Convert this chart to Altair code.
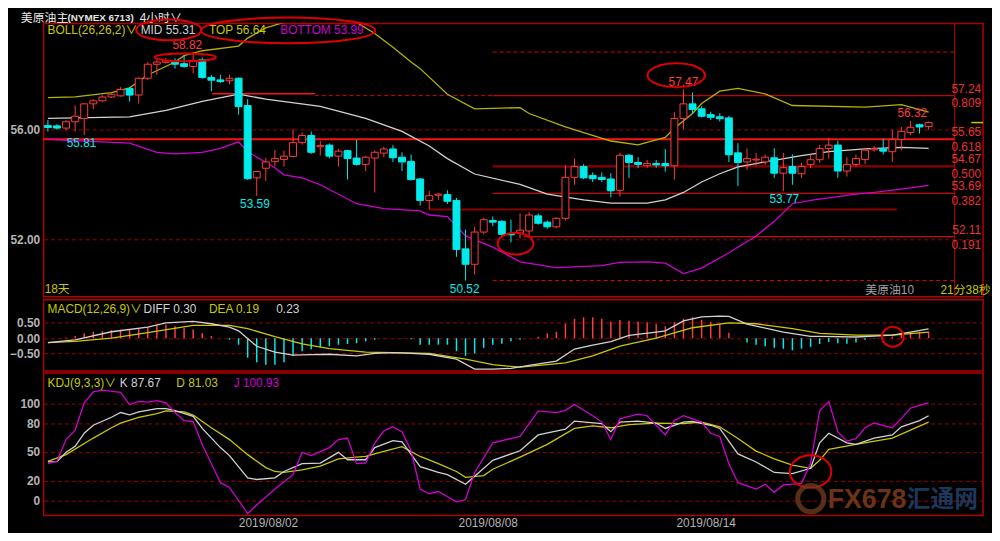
import altair as alt
import pandas as pd

# ---------------- candles (4h bars) ----------------
OPEN = [56.15, 56.14, 56.06, 56.29, 56.41, 56.94, 57.05, 57.19, 57.23, 57.50,
        57.26, 57.87, 58.38, 58.45, 58.50, 58.40, 58.30, 58.54, 57.90, 57.81,
        57.78, 57.87, 56.88, 54.25, 54.60, 54.85, 54.92, 55.03, 55.53, 55.79,
        55.38, 55.44, 55.04, 55.24, 54.97, 54.74, 54.97, 55.15, 55.30, 55.00,
        54.85, 54.21, 53.43, 53.62, 53.64, 53.43, 51.67, 51.11, 52.28, 52.70,
        52.67, 52.22, 52.24, 52.32, 52.87, 52.64, 52.47, 52.78, 54.27, 54.66,
        54.34, 54.27, 54.21, 53.80, 55.07, 54.81, 54.69, 54.77, 54.77, 54.69,
        56.41, 56.94, 56.76, 56.55, 56.47, 56.43, 55.16, 54.83, 54.90, 54.83,
        54.98, 54.42, 54.66, 54.40, 54.74, 54.91, 55.32, 55.44, 54.50, 54.74,
        54.92, 55.27, 55.30, 55.20, 55.65, 55.90, 56.18, 56.12]
HIGH = [56.35, 56.20, 56.35, 56.88, 56.96, 57.10, 57.25, 57.35, 57.55, 57.55,
        57.90, 58.45, 58.55, 58.60, 58.60, 58.70, 58.82, 58.62, 57.99, 58.00,
        58.00, 57.90, 57.11, 54.50, 54.98, 55.27, 55.24, 56.02, 55.90, 55.94,
        55.59, 55.50, 55.30, 55.26, 55.63, 55.05, 55.25, 55.38, 55.44, 55.18,
        55.10, 54.25, 53.78, 53.70, 53.80, 53.52, 52.37, 52.47, 52.80, 52.85,
        52.72, 52.73, 52.96, 53.00, 52.95, 52.70, 52.82, 54.71, 54.95, 54.75,
        54.45, 54.45, 54.42, 55.16, 55.12, 55.00, 54.90, 54.90, 55.30, 56.64,
        57.47, 57.35, 56.85, 56.65, 56.60, 56.50, 55.51, 55.32, 55.15, 55.10,
        55.33, 55.16, 55.10, 54.80, 55.10, 55.45, 55.70, 55.60, 55.00, 55.10,
        55.35, 55.40, 55.67, 56.00, 56.10, 56.32, 56.22, 56.30]
LOW = [55.93, 56.00, 55.98, 55.94, 55.81, 56.75, 57.00, 57.15, 57.20, 57.02,
       56.96, 57.80, 58.00, 58.40, 58.22, 58.25, 58.05, 57.85, 57.40, 57.70,
       57.65, 56.55, 54.18, 53.59, 54.14, 54.67, 54.66, 55.00, 55.46, 55.12,
       55.06, 54.96, 54.66, 54.19, 54.70, 54.50, 53.72, 55.00, 54.83, 54.50,
       54.15, 53.25, 53.10, 53.45, 53.30, 51.38, 50.52, 50.74, 52.20, 52.50,
       52.10, 51.90, 52.05, 52.10, 52.55, 52.40, 52.42, 52.70, 54.00, 54.20,
       54.10, 54.10, 53.54, 53.57, 54.25, 54.60, 54.62, 54.62, 54.48, 54.19,
       56.02, 56.59, 56.45, 56.35, 56.30, 54.83, 53.95, 54.54, 54.70, 54.72,
       54.25, 53.77, 54.00, 54.25, 54.60, 54.80, 54.95, 54.25, 54.30, 54.65,
       54.75, 55.20, 55.10, 54.83, 55.25, 55.80, 55.86, 56.00]
CLOSE = [56.08, 56.06, 56.29, 56.49, 56.94, 57.05, 57.19, 57.29, 57.46, 57.26,
         57.87, 58.38, 58.46, 58.50, 58.38, 58.30, 58.52, 57.90, 57.80, 57.75,
         57.87, 56.84, 54.22, 54.48, 54.83, 54.95, 55.04, 55.53, 55.79, 55.18,
         55.43, 55.04, 55.22, 54.95, 54.74, 55.00, 55.18, 55.30, 54.98, 54.83,
         54.19, 53.43, 53.60, 53.66, 53.40, 51.65, 51.11, 52.28, 52.73, 52.64,
         52.20, 52.18, 52.35, 52.90, 52.60, 52.47, 52.78, 54.27, 54.66, 54.25,
         54.22, 54.19, 53.78, 55.07, 54.81, 54.74, 54.77, 54.72, 54.69, 56.41,
         56.94, 56.73, 56.49, 56.45, 56.40, 55.09, 54.81, 54.95, 54.93, 55.00,
         54.42, 54.62, 54.42, 54.66, 54.91, 55.32, 55.44, 54.50, 54.74, 54.95,
         55.26, 55.32, 55.22, 55.65, 55.94, 56.09, 56.10, 56.26]

# ---------------- Bollinger (26,26,2) ----------------
MID_IDX = [0, 9, 13, 17, 21, 24, 30, 35, 39, 42, 44, 47, 52, 55, 59, 62, 66, 68, 70, 72,
           74, 76, 79, 83, 86, 90, 94, 97]
MID_VAL = [56.41, 56.47, 56.70, 57.03, 57.29, 57.11, 56.85, 56.41, 55.94, 55.41, 54.95,
           54.39, 54.01, 53.66, 53.45, 53.33, 53.33, 53.45, 53.72, 54.10, 54.40, 54.65,
           54.83, 55.06, 55.20, 55.30, 55.36, 55.32]
TOP_IDX = [0, 3, 7, 9, 11, 14, 15, 17, 21, 22, 24, 27, 31, 34, 36, 38, 40, 41, 44, 47,
           52, 53, 57, 62, 65, 68, 69, 71, 72, 74, 76, 79, 82, 90, 94, 97]
TOP_VAL = [57.17, 57.19, 57.35, 57.52, 57.99, 58.46, 58.69, 58.87, 59.04, 59.33, 59.7,
           60.0, 60.1, 59.9, 59.5, 59.0, 58.46, 58.22, 57.29, 56.76, 56.80, 56.59, 56.10,
           55.59, 55.45, 55.72, 56.05, 56.59, 56.95, 57.40, 57.50, 57.30, 56.88, 56.82,
           56.91, 56.64]
BOT_IDX = [0, 6, 9, 12, 14, 17, 19, 21, 22, 25, 26, 28, 30, 34, 37, 41, 42, 44, 46, 49,
           52, 56, 61, 63, 66, 68, 70, 72, 75, 78, 80, 82, 84, 89, 91, 94, 97]
BOT_VAL = [55.65, 55.56, 55.51, 55.18, 55.12, 55.18, 55.32, 55.56, 55.20, 54.62, 54.36,
           54.25, 54.00, 53.31, 53.13, 53.05, 52.90, 52.84, 52.14, 51.73, 51.20, 50.99,
           51.06, 51.18, 51.20, 51.15, 50.77, 50.97, 51.53, 52.14, 52.67, 53.31, 53.43,
           53.66, 53.72, 53.84, 53.98]

# ---------------- Fibonacci levels (high 58.82 / low 50.52) ----------------
FIB_PRICE = [58.82, 57.24, 55.65, 54.67, 53.69, 52.11, 50.52]
FIB_RATIO = ['1.000', '0.809', '0.618', '0.500', '0.382', '0.191', '0.000']
FIB_START = [49.0, 49.0, -0.47, 49.0, 49.0, 52.4, 49.0]
FIB_END = 99.86
SEG_PRICE = [57.31, 53.10]
SEG_START = [18.1, 42.0]
SEG_END = [29.4, 93.5]

# ---------------- MACD (12,26,9) ----------------
MACD_HIST = [0.0, 0.0, 0.02, 0.07, 0.16, 0.21, 0.23, 0.26, 0.28, 0.28,
             0.31, 0.36, 0.42, 0.44, 0.39, 0.33, 0.28, 0.16, 0.07, 0.0,
             -0.05, -0.21, -0.63, -0.78, -0.86, -0.86, -0.78, -0.57, -0.42, -0.36,
             -0.29, -0.26, -0.21, -0.19, -0.16, -0.10, -0.05, -0.01, 0.0, -0.01,
             -0.03, -0.21, -0.21, -0.21, -0.21, -0.42, -0.57, -0.49, -0.31, -0.21,
             -0.18, -0.10, -0.05, 0.0, 0.05, 0.16, 0.21, 0.47, 0.63, 0.68,
             0.68, 0.63, 0.54, 0.59, 0.57, 0.54, 0.52, 0.45, 0.39, 0.52,
             0.63, 0.68, 0.60, 0.52, 0.47, 0.18, 0.0, -0.14, -0.21, -0.26,
             -0.31, -0.34, -0.39, -0.34, -0.28, -0.19, -0.12, -0.16, -0.18, -0.14,
             -0.05, -0.02, 0.0, 0.05, 0.16, 0.18, 0.21, 0.21]
DIFF_IDX = [0, 3, 7, 11, 13, 16, 18, 20, 21, 23, 25, 27, 29, 31, 34, 36, 38, 40, 42, 45,
            47, 49, 51, 53, 56, 58, 60, 62, 64, 67, 68, 70, 72, 74, 75, 77, 81, 84, 85, 89,
            93, 95, 97]
DIFF_VAL = [-0.14, -0.05, 0.21, 0.36, 0.50, 0.55, 0.47, 0.36, 0.24, -0.26, -0.45, -0.55,
            -0.53, -0.52, -0.57, -0.49, -0.47, -0.49, -0.52, -0.68, -1.0, -1.0, -0.98,
            -0.88, -0.74, -0.35, -0.22, -0.11, 0.09, 0.20, 0.24, 0.56, 0.69, 0.72, 0.71,
            0.46, 0.20, 0.06, 0.06, 0.04, 0.10, 0.20, 0.30]
DEA_IDX = [0, 3, 7, 11, 16, 20, 22, 25, 28, 31, 35, 38, 42, 46, 49, 52, 57, 60, 63, 67,
           71, 75, 78, 82, 85, 89, 93, 97]
DEA_VAL = [-0.14, -0.10, 0.0, 0.18, 0.42, 0.42, 0.31, 0.05, -0.18, -0.34, -0.45, -0.47,
           -0.49, -0.68, -0.86, -0.94, -0.80, -0.57, -0.26, 0.0, 0.34, 0.50, 0.47, 0.31,
           0.16, 0.10, 0.10, 0.20]

# ---------------- KDJ (9,3,3) ----------------
K_IDX = [0, 1, 2, 3, 4, 5, 7, 8, 9, 10, 12, 13, 14, 16, 17, 19, 20, 22, 23, 25, 26, 28,
         30, 32, 33, 35, 36, 38, 39, 41, 43, 44, 46, 47, 49, 52, 54, 57, 58, 61, 62, 63,
         65, 67, 68, 70, 71, 73, 74, 76, 78, 80, 82, 84, 85, 86, 88, 89, 91, 93, 94, 96, 97]
K_VAL = [39.7, 40, 49.7, 56, 69.5, 77.8, 86.1, 91, 88.7, 91.7, 95, 95, 93, 87, 74.5, 54.6,
         46.3, 23.2, 21.5, 23.2, 29.8, 38, 38.5, 49.7, 42, 42, 54.6, 61.9, 60.5, 34.8, 28.8,
         26.5, 16.5, 24.8, 41.4, 51.3, 67.8, 73.8, 82.1, 79.4, 71.2, 81.1, 82.1, 80.1, 74.5,
         81.1, 81.7, 77.8, 74.5, 48, 39.7, 28.8, 27.5, 33.1, 59.6, 69.5, 59.6, 57.9, 64.5,
         67.8, 76.2, 82.7, 87.67]
D_IDX = [0, 2, 5, 7, 8, 10, 12, 13, 15, 16, 18, 20, 22, 24, 25, 26, 28, 30, 32, 34, 35,
         37, 39, 41, 43, 45, 46, 48, 49, 52, 55, 58, 60, 62, 64, 67, 70, 72, 74, 76, 78,
         80, 82, 84, 85, 86, 89, 93, 97]
D_VAL = [40.4, 47.3, 64.5, 75.2, 80, 86.1, 90, 92.7, 91.7, 88.4, 75.2, 62.9, 47.3, 33.8,
         29.8, 28.8, 31.5, 35.4, 43, 44.7, 45.4, 50.6, 55.6, 45.4, 38, 29.8, 23.8, 25.5,
         32.1, 44.7, 57.9, 74.5, 77.1, 75.2, 78.5, 80.1, 79.4, 81.1, 76.2, 64, 51, 43, 36.4,
         33.1, 41.4, 52.9, 57.9, 64.5, 81.03]
J_IDX = [0, 1, 2, 3, 4, 5, 6, 8, 9, 10, 11, 12, 13, 14, 15, 16, 17, 18, 19, 20, 22, 23,
         25, 27, 28, 29, 31, 32, 33, 34, 35, 36, 37, 38, 39, 40, 41, 42, 43, 45, 46, 47,
         49, 52, 54, 56, 57, 58, 60, 61, 62, 63, 65, 66, 68, 69, 70, 72, 73, 74, 75, 76,
         78, 79, 80, 81, 83, 84, 85, 86, 87, 88, 89, 90, 91, 93, 94, 95, 96, 97]
J_VAL = [38, 40.4, 62.9, 72.8, 101, 112.5, 114.2, 111.9, 99.3, 102.6, 101.9, 103.3, 101,
         91, 82.7, 81.7, 57.9, 38, 18.2, 13.2, -13.9, -5, 11.6, 26.5, 49.7, 46.4, 54.6,
         62.9, 64.5, 38, 38.6, 59.6, 71.8, 76.2, 71.2, 51.3, 11.6, 6.6, 9, -1.7, 0.7, 28.8,
         59.6, 66.2, 92.7, 91, 93.3, 99.3, 87.7, 81.1, 62.9, 84.4, 89.4, 87.7, 67.8, 82.7,
         87.7, 81.1, 69.5, 66.2, 38, 18.2, 11.6, 16.5, 8.2, 15.9, 17.5, 38, 92.7, 102.6,
         71.2, 61.3, 63.9, 75.2, 80.1, 75.2, 85, 95.5, 98.5, 100.93]

# ---------------- annotations ----------------
ANN_IDX = [15.35, 3.7, 22.8, 45.9, 70.0, 81.1, 95.2]
ANN_PRICE = [59.09, 55.51, 53.29, 50.21, 57.75, 53.48, 56.61]
ANN_TEXT = ['58.82', '55.81', '53.59', '50.52', '57.47', '53.77', '56.32']
ANN_KIND = ['high', 'low', 'low', 'low', 'high', 'low', 'high']
ELL_IDX = [15.13, 69.21, 51.5]
ELL_PRICE = [58.63, 57.98, 51.86]
DATE_IDX = [24.3, 48.5, 72.5]
DATE_TXT = ['2019/08/02', '2019/08/08', '2019/08/14']

# ---------------- layout / style ----------------
W = 949
H1, H2, H3 = 276, 72, 144
XDOM = [-0.47, 103.0]
PDOM = [49.93, 59.86]
MDOM = [-1.0625, 1.25]
KDOM = [-15.9, 132.1]
FONT = "Liberation Sans, Noto Sans CJK SC, DejaVu Sans"
BORDER = '#b00000'
GRID = '#9a0000'
RED = '#ff3c3c'
TRED = '#e83232'
CYAN = '#00ecec'
YEL = '#c8c800'
YEL_L = '#b4b400'
WHT = '#d2d2d2'
MAG = '#d000d0'
AXC = '#b4b4b4'

XS = alt.Scale(domain=XDOM, nice=False, zero=False, padding=0)


def xq(field='i'):
    return alt.X(f'{field}:Q', scale=XS, axis=None)


def yaxis(values, fmt):
    return alt.Axis(values=values, format=fmt, title=None, grid=True, gridColor=GRID,
                    gridDash=[4, 3], gridWidth=1, domain=False, ticks=False,
                    labelPadding=4, minExtent=35, maxExtent=35, labelColor=AXC,
                    labelFont=FONT, labelFontSize=12, labelFontWeight='bold')


PS = alt.Scale(domain=PDOM, nice=False, zero=False, padding=0)
MS = alt.Scale(domain=MDOM, nice=False, zero=False, padding=0)
KS = alt.Scale(domain=KDOM, nice=False, zero=False, padding=0)
PAX = yaxis([52, 56], '.2f')
MAX = yaxis([-0.5, 0, 0.5], '.2f')
KAX = yaxis([0, 20, 50, 80, 100], 'd')


def yp(field):
    return alt.Y(f'{field}:Q', scale=PS, axis=PAX)


def ym(field):
    return alt.Y(f'{field}:Q', scale=MS, axis=MAX)


def yk(field):
    return alt.Y(f'{field}:Q', scale=KS, axis=KAX)


def txt(s, x, y, color, size=12, align='left', weight='normal', opacity=1.0):
    return alt.Chart(alt.Data(values=[{'t': s}])).mark_text(
        align=align, baseline='middle', font=FONT, fontSize=size,
        fontWeight=weight, color=color, opacity=opacity
    ).encode(x=alt.value(x), y=alt.value(y), text='t:N')


def ellipse_path(r):
    return f"M-1,0A1,{r},0,1,1,1,0A1,{r},0,1,1,-1,0Z"


def ellipse_px(x, y, w, h):
    return alt.Chart(alt.Data(values=[{}])).mark_point(
        shape=ellipse_path(round(h / w, 3)), size=w * w, filled=False,
        stroke='#e00000', strokeWidth=2, opacity=1
    ).encode(x=alt.value(x), y=alt.value(y))


def ellipse_data(i, v, w, h, yfun):
    d = pd.DataFrame({'i': [i], 'v': [v]})
    return alt.Chart(d).mark_point(
        shape=ellipse_path(round(h / w, 3)), size=w * w, filled=False,
        stroke='#e00000', strokeWidth=2, opacity=1
    ).encode(x=xq(), y=yfun('v'))


# ---------------- main panel ----------------
cdf = pd.DataFrame({'i': range(len(OPEN)), 'open': OPEN, 'high': HIGH,
                    'low': LOW, 'close': CLOSE})
cdf['dir'] = ['up' if c >= o else 'down' for o, c in zip(OPEN, CLOSE)]

fib = pd.DataFrame({'i': FIB_START, 'i2': [FIB_END] * len(FIB_PRICE),
                    'p': FIB_PRICE, 'r': FIB_RATIO,
                    'pl': [f'{p:.2f}' for p in FIB_PRICE]})
fib_styles = [  # (color, width, dash) per level
    ('#e00000', 1, [4, 3]), ('#c80000', 1.2, [1, 0]), ('#ff1010', 2, [1, 0]),
    ('#8c0000', 2.2, [1, 0]), ('#ff1010', 1.2, [1, 0]), ('#ff1010', 1.2, [1, 0]),
    ('#e00000', 1, [4, 3])]

main_layers = []
for k, (col, sw, dash) in enumerate(fib_styles):
    row = fib.iloc[[k]]
    main_layers.append(alt.Chart(row).mark_rule(color=col, strokeWidth=sw, strokeDash=dash).encode(
        x=xq(), x2='i2:Q', y=yp('p')))
ext = pd.DataFrame({'i': [SEG_END[0]], 'i2': [FIB_START[1]], 'p': [FIB_PRICE[1]]})
main_layers.append(alt.Chart(ext).mark_rule(color='#e00000', strokeWidth=1, strokeDash=[4, 3]).encode(
    x=xq(), x2='i2:Q', y=yp('p')))
seg = pd.DataFrame({'i': SEG_START, 'i2': SEG_END, 'p': SEG_PRICE})
main_layers.append(alt.Chart(seg.iloc[[0]]).mark_rule(color='#ff1010', strokeWidth=1.5).encode(
    x=xq(), x2='i2:Q', y=yp('p')))
main_layers.append(alt.Chart(seg.iloc[[1]]).mark_rule(color='#8c0000', strokeWidth=2.2).encode(
    x=xq(), x2='i2:Q', y=yp('p')))
sep = pd.DataFrame({'i': [FIB_END]})
main_layers.append(alt.Chart(sep).mark_rule(color=BORDER, strokeWidth=1).encode(
    x=xq(), y=alt.value(0), y2=alt.value(H1)))

for ix, vals, col in [(TOP_IDX, TOP_VAL, YEL_L), (MID_IDX, MID_VAL, WHT), (BOT_IDX, BOT_VAL, MAG)]:
    d = pd.DataFrame({'i': ix, 'v': vals})
    main_layers.append(alt.Chart(d).mark_line(color=col, strokeWidth=1.3, clip=True).encode(
        x=xq(), y=yp('v')))

lp = pd.DataFrame({'i': [101.7], 'i2': [103.0], 'p': [CLOSE[-1]]})
main_layers.append(alt.Chart(lp).mark_rule(color=YEL, strokeWidth=1.5).encode(
    x=xq(), x2='i2:Q', y=yp('p')))

main_layers.append(alt.Chart(cdf).mark_rule(strokeWidth=1).encode(
    x=xq(), y=yp('low'), y2='high:Q',
    color=alt.Color('dir:N', scale=alt.Scale(domain=['up', 'down'], range=[RED, CYAN]), legend=None)))
main_layers.append(alt.Chart(cdf).mark_bar(size=7, strokeWidth=1).encode(
    x=xq(), y=yp('open'), y2='close:Q',
    fill=alt.Fill('dir:N', scale=alt.Scale(domain=['up', 'down'], range=['#000000', CYAN]), legend=None),
    stroke=alt.Stroke('dir:N', scale=alt.Scale(domain=['up', 'down'], range=[RED, CYAN]), legend=None)))

ann = pd.DataFrame({'i': ANN_IDX, 'v': ANN_PRICE, 't': ANN_TEXT, 'k': ANN_KIND})
main_layers.append(alt.Chart(ann).mark_text(font=FONT, fontSize=12, baseline='middle').encode(
    x=xq(), y=yp('v'), text='t:N',
    color=alt.Color('k:N', scale=alt.Scale(domain=['high', 'low'], range=[TRED, CYAN]), legend=None)))
fl = fib.iloc[1:6]
main_layers.append(alt.Chart(fl).mark_text(font=FONT, fontSize=12, align='right', baseline='middle',
                                           dy=-7, color=TRED).encode(
    x=alt.value(W - 2), y=yp('p'), text='pl:N'))
main_layers.append(alt.Chart(fl).mark_text(font=FONT, fontSize=12, align='right', baseline='middle',
                                           dy=8, color=TRED).encode(
    x=alt.value(W - 2), y=yp('p'), text='r:N'))
main_layers.append(ellipse_data(ELL_IDX[0], ELL_PRICE[0], 62, 8, yp))
main_layers.append(ellipse_data(ELL_IDX[1], ELL_PRICE[1], 58, 24, yp))
main_layers.append(ellipse_data(ELL_IDX[2], ELL_PRICE[2], 36, 22, yp))
main_layers += [
    txt('美原油主', -23, -6, '#e6e6e6', 12),
    txt('(NYMEX 6713)', 24, -6, '#e6e6e6', 10, weight='bold'),
    txt('4小时∨', 97, -6, '#e6e6e6', 12),
    txt('BOLL(26,26,2)∨', 4, 7, YEL, 12),
    txt('MID 55.31', 98, 7, WHT, 12),
    txt('TOP 56.64', 167, 7, YEL, 12),
    txt('BOTTOM 53.99', 239, 7, MAG, 12),
    ellipse_px(126.5, 6.5, 66, 21),
    ellipse_px(247, 7, 176, 26),
    txt('18天', 1, H1 - 8, YEL, 12),
    txt('美原油10', 830, H1 - 7, '#a0a0a0', 12),
    txt('21分38秒', 906, H1 - 7, YEL, 12),
]
main = alt.layer(*main_layers).properties(width=W, height=H1)

# ---------------- MACD panel ----------------
hdf = pd.DataFrame({'i': range(len(MACD_HIST)), 'm': MACD_HIST})
hdf['s'] = ['pos' if m >= 0 else 'neg' for m in MACD_HIST]
macd_layers = [
    alt.Chart(hdf).mark_rule(strokeWidth=1.5).encode(
        x=xq(), y=ym('m'), y2=alt.datum(0),
        color=alt.Color('s:N', scale=alt.Scale(domain=['pos', 'neg'], range=[RED, CYAN]), legend=None)),
    alt.Chart(pd.DataFrame({'i': DEA_IDX, 'v': DEA_VAL})).mark_line(color=YEL, strokeWidth=1.3, clip=True).encode(
        x=xq(), y=ym('v')),
    alt.Chart(pd.DataFrame({'i': DIFF_IDX, 'v': DIFF_VAL})).mark_line(color=WHT, strokeWidth=1.3, clip=True).encode(
        x=xq(), y=ym('v')),
    ellipse_data(93.05, 0.047, 22, 20, ym),
    txt('MACD(12,26,9)∨', 4, 9, YEL, 12),
    txt('DIFF 0.30', 101, 9, WHT, 12),
    txt('DEA 0.19', 167, 9, YEL, 12),
    txt('0.23', 235, 9, WHT, 12),
]
macd = alt.layer(*macd_layers).properties(width=W, height=H2)

# ---------------- KDJ panel ----------------
kdj_layers = [
    alt.Chart(pd.DataFrame({'i': D_IDX, 'v': D_VAL})).mark_line(color=YEL, strokeWidth=1.3, clip=True).encode(
        x=xq(), y=yk('v')),
    alt.Chart(pd.DataFrame({'i': K_IDX, 'v': K_VAL})).mark_line(color=WHT, strokeWidth=1.3, clip=True).encode(
        x=xq(), y=yk('v')),
    alt.Chart(pd.DataFrame({'i': J_IDX, 'v': J_VAL})).mark_line(color=MAG, strokeWidth=1.3, clip=True).encode(
        x=xq(), y=yk('v')),
    ellipse_data(84.0, 29.8, 42, 33, yk),
    alt.Chart(alt.Data(values=[{}])).mark_point(shape='circle', size=700, filled=False,
                                                stroke='#6e3a1e', strokeWidth=5, opacity=0.8).encode(
        x=alt.value(775), y=alt.value(H3 - 17)),
    txt('FX678', 792, H3 - 16, '#7c3c1c', 27, weight='bold', opacity=0.85),
    txt('汇通网', 872, H3 - 16, '#22416a', 24, weight='bold', opacity=0.85),
    txt('KDJ(9,3,3)∨', 4, 10, YEL, 12),
    txt('K 87.67', 77, 10, WHT, 12),
    txt('D 81.03', 134, 10, YEL, 12),
    txt('J 100.93', 192, 10, MAG, 12),
    alt.Chart(pd.DataFrame({'i': DATE_IDX, 't': DATE_TXT})).mark_text(
        font=FONT, fontSize=12, color=AXC, baseline='middle').encode(
        x=xq(), y=alt.value(H3 + 8), text='t:N'),
]
kdj = alt.layer(*kdj_layers).properties(width=W, height=H3)

chart = alt.vconcat(main, macd, kdj, spacing=0, padding=0, background='#000000').configure_view(
    stroke=BORDER, strokeWidth=1.5)

chart.save("out.html", embed_options={"renderer": "svg", "actions": False})
